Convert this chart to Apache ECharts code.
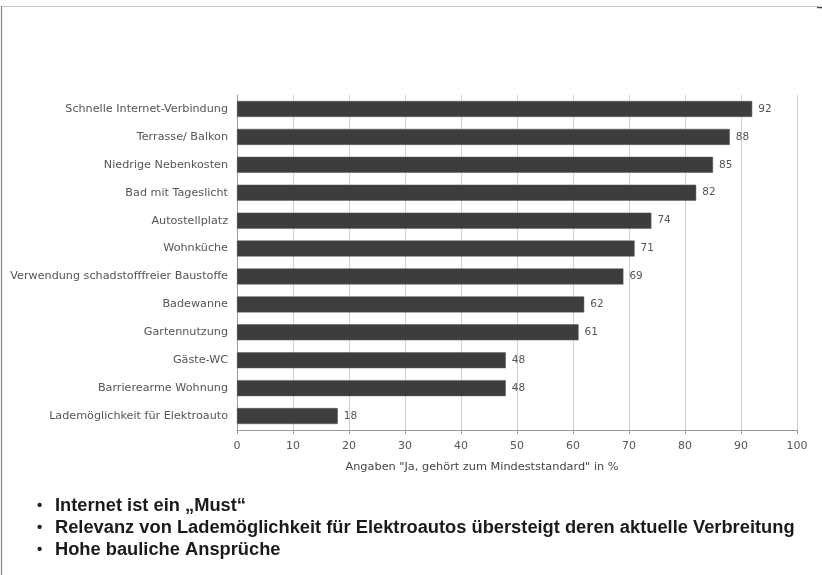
<!DOCTYPE html>
<html><head><meta charset="utf-8">
<script src="https://cdn.jsdelivr.net/npm/echarts@6/dist/echarts.min.js"></script>
<style>html,body{margin:0;padding:0;background:#fff}#c{width:822px;height:575px}</style>
</head><body><div id="c"></div>
<script>
const categories = ["Schnelle Internet-Verbindung","Terrasse/ Balkon","Niedrige Nebenkosten","Bad mit Tageslicht","Autostellplatz","Wohnküche","Verwendung schadstofffreier Baustoffe","Badewanne","Gartennutzung","Gäste-WC","Barrierearme Wohnung","Lademöglichkeit für Elektroauto"];
const values = [92,88,85,82,74,71,69,62,61,48,48,18];
const axisTitle = 'Angaben "Ja, gehört zum Mindeststandard" in %';
const bullets = ["Internet ist ein „Must“","Relevanz von Lademöglichkeit für Elektroautos übersteigt deren aktuelle Verbreitung","Hohe bauliche Ansprüche"];

const chart = echarts.init(document.getElementById('c'), null, {renderer:'canvas'});
const graphic = [
  {type:'line', shape:{x1:1,y1:6.5,x2:818,y2:6.5}, style:{stroke:'#c4c4c4',lineWidth:1}},
  {type:'line', shape:{x1:817,y1:7.5,x2:822,y2:7.5}, style:{stroke:'#444',lineWidth:1.5}},
  {type:'line', shape:{x1:1.5,y1:6,x2:1.5,y2:575}, style:{stroke:'#888',lineWidth:1.2}}
];
bullets.forEach((t,i)=>{
  graphic.push({type:'text', left:37, top:498+i*22, style:{text:'•', font:'bold 15px "Liberation Sans"', fill:'#222'}});
  graphic.push({type:'text', left:55, top:497+i*22, style:{text:t, font:'bold 18.3px "Liberation Sans"', fill:'#1a1a1a'}});
});
chart.setOption({
  animation:false,
  grid:{left:237, right:25, top:95, bottom:145, containLabel:false},
  xAxis:{type:'value', min:0, max:100, interval:10,
    name:axisTitle, nameLocation:'middle', nameGap:32,
    nameTextStyle:{fontFamily:'DejaVu Sans', fontSize:11.3, color:'#444', padding:[0,70,0,0]},
    axisLine:{show:true, lineStyle:{color:'#999'}},
    axisTick:{show:true, length:4, lineStyle:{color:'#999'}},
    axisLabel:{fontFamily:'DejaVu Sans', fontSize:11, color:'#555', margin:11},
    splitLine:{show:true, lineStyle:{color:'#cfcfcf', width:1}}
  },
  yAxis:{type:'category', data:categories, inverse:true,
    axisLine:{show:true, lineStyle:{color:'#999'}},
    axisTick:{show:false},
    axisLabel:{fontFamily:'DejaVu Sans', fontSize:11.2, color:'#555', margin:9}
  },
  series:[{type:'bar', data:values, barWidth:16,
    itemStyle:{color:'#3d3d3d', borderColor:'#5a5a5a', borderWidth:0.5},
    label:{show:true, position:'right', distance:6, fontFamily:'DejaVu Sans', fontSize:10.5, color:'#555'}
  }],
  graphic: graphic
});
</script></body></html>
